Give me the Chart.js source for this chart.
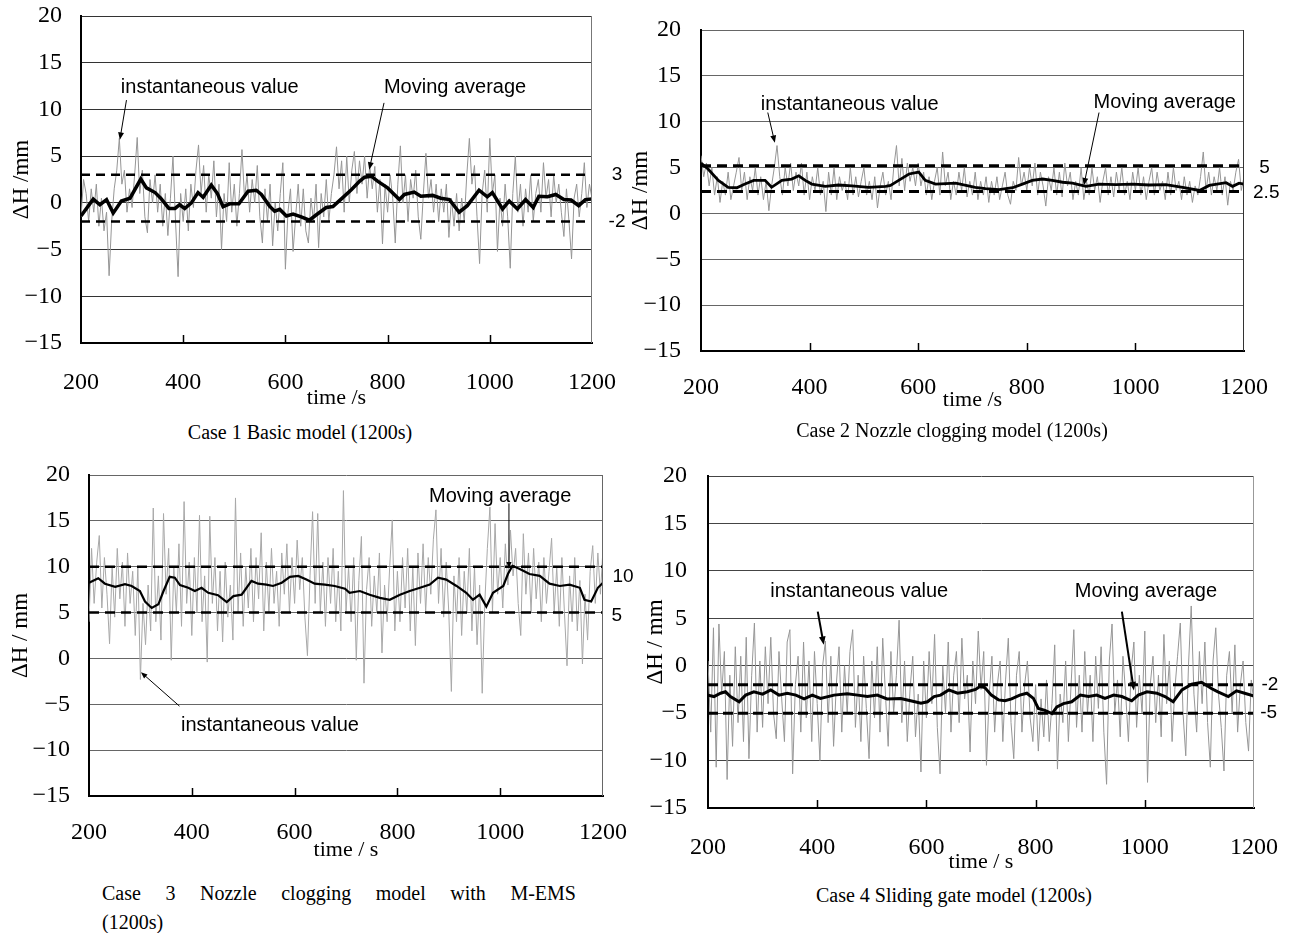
<!DOCTYPE html>
<html>
<head>
<meta charset="utf-8">
<script src="https://cdn.jsdelivr.net/npm/chart.js@4.4.1/dist/chart.umd.min.js"></script>
<style>
  body { margin: 0; background: #fff; width: 1297px; height: 933px; position: relative; overflow: hidden; }
  canvas { position: absolute; }
  .cap { position: absolute; font-family: 'Liberation Serif', 'Times New Roman', serif; font-size: 20px; line-height: 24px; color: #000; white-space: nowrap; }
</style>
</head>
<body>
<canvas id="c1" width="648" height="420" style="left:0;top:0"></canvas>
<canvas id="c2" width="677" height="420" style="left:620px;top:0"></canvas>
<canvas id="c3" width="640" height="420" style="left:0;top:460px"></canvas>
<canvas id="c4" width="657" height="420" style="left:640px;top:460px"></canvas>

<div class="cap" style="left:100px;width:400px;top:420px;text-align:center">Case 1 Basic model (1200s)</div>
<div class="cap" style="left:752px;width:400px;top:418px;text-align:center">Case 2 Nozzle clogging model (1200s)</div>
<div class="cap" style="left:102px;width:474px;top:881px;text-align:justify;text-align-last:justify">Case 3 Nozzle clogging model with M-EMS</div>
<div class="cap" style="left:102px;top:910px">(1200s)</div>
<div class="cap" style="left:754px;width:400px;top:883px;text-align:center">Case 4 Sliding gate model (1200s)</div>

<script>
// sample times of the instantaneous signal (one sample every 5 s)
const sampleStart = 200;
const sampleStep = 5;

// y axis range and tick step, x axis range and tick step
const yMin = -15, yMax = 20, yStep = 5;
const xMin = 200, xMax = 1200, xStep = 200;

// Case 1 Basic model
const case1Inst = [
  -1.5, 2.5, 1.0, -2.0, 1.5, -1.0, 2.0, -2.5, 0.5, -3.0, -1.0, -7.8, -2.0, 1.5, 3.5, 6.9, 2.0, 3.5, -1.0, 1.5,
  -0.5, 3.0, 7.0, 1.0, 3.5, -1.5, -3.2, 2.5, 0.0, 3.0, -1.0, 2.0, -2.5, 1.0, -3.5, 0.5, 5.0, -2.0, -7.9, 1.0,
  -2.0, 1.5, -3.0, 2.0, -0.5, 3.5, 6.2, 1.0, 4.0, -1.0, 3.0, 0.5, 4.5, -1.5, 2.0, -5.0, 1.0, -2.0, 4.3, -1.0,
  2.0, -2.5, 1.0, 5.7, 0.5, 3.0, -1.0, 2.5, 0.0, 4.0, -1.5, -4.3, 1.5, -2.0, 2.0, -4.6, 0.0, -3.0, 1.0, 4.3,
  -7.1, -1.0, 1.5, -5.2, -1.5, 2.0, -2.5, 1.5, -3.0, -4.3, 0.5, -2.0, 2.0, -4.8, 1.0, -1.5, 2.5, -2.0, 1.0, 3.0,
  6.0, 1.5, 4.5, -1.0, 5.0, 0.0, 3.5, 5.5, 1.0, 4.5, 2.0, 5.0, 0.5, 4.0, 1.5, 3.9, -1.0, 2.5, -4.4, 2.0,
  -1.0, 3.0, 0.5, -4.3, 2.0, 6.1, 0.0, 3.0, -2.0, 2.5, 0.5, 3.5, -1.5, -3.9, 1.0, 5.3, 0.5, 2.5, -1.0, 2.0,
  -2.0, 1.5, -1.0, 2.0, -3.7, 0.5, -2.5, 1.0, -3.0, 0.5, -2.0, 3.0, 6.9, 2.0, 4.0, -1.5, -6.5, 1.0, 3.5, -1.0,
  6.9, 1.0, 3.0, -5.2, 0.5, -2.5, 2.0, -1.5, -7.0, 1.0, 5.0, -1.0, 2.0, -2.5, 1.5, -1.0, 3.0, -2.0, 1.0, 2.5,
  -1.0, 4.3, 0.5, 2.5, -1.5, 3.0, 0.0, 2.0, -1.0, -3.6, 1.5, -2.0, -6.0, 0.5, 2.0, -1.5, 1.0, 4.3, -0.5, 2.0, 0.5
];
const case1MaTime = [200, 224, 237, 250, 263, 279, 296, 317, 328, 345, 356, 372, 384, 393, 403, 416, 429, 439, 455, 467,
  478, 491, 509, 527, 543, 553, 569, 579, 589, 602, 615, 631, 647, 660, 680, 693, 709, 729, 745, 755,
  768, 781, 800, 823, 833, 852, 865, 888, 904, 921, 940, 956, 979, 995, 1005, 1025, 1038, 1054, 1070, 1085,
  1096, 1113, 1129, 1145, 1159, 1174, 1187, 1200];
const case1MaValue = [-1.4, 0.4, -0.2, 0.35, -1.1, 0.2, 0.5, 2.55, 1.6, 1.1, 0.5, -0.6, -0.6, -0.2, -0.6, 0, 1.1, 0.6, 1.9, 1.0,
  -0.4, -0.1, -0.1, 1.25, 1.35, 0.9, -0.35, -0.9, -0.7, -1.4, -1.2, -1.5, -1.85, -1.3, -0.5, -0.4, 0.4, 1.4, 2.3, 2.75,
  2.85, 2.3, 1.6, 0.35, 0.9, 1.15, 0.7, 0.8, 0.5, 0.35, -1.0, -0.3, 1.35, 0.65, 1.1, -0.65, 0.2, -0.65, 0.35, -0.5,
  0.7, 0.65, 0.9, 0.35, 0.3, -0.3, 0.35, 0.4];
const case1Limits = [3, -2];
const case1LimitLabels = ['3', '-2'];

// Case 2 Nozzle clogging model
const case2Inst = [
  6.3, 4.0, 5.5, 3.0, 5.0, 2.0, 4.0, 1.2, 3.5, 2.0, 4.5, 1.5, 3.0, 4.5, 6.1, 2.5, 4.5, 1.5, 4.0, 2.5,
  5.0, 2.0, 4.0, 1.5, 3.5, 0.3, 3.0, 5.0, 7.4, 4.0, 2.0, 5.0, 3.0, 5.5, 2.5, 4.5, 3.0, 5.5, 2.0, 4.5,
  1.5, 4.0, 2.5, 5.0, 2.0, 3.5, 0.2, 4.5, 2.0, 5.0, 1.5, 4.0, 2.5, 3.5, 1.5, 5.0, 2.0, 4.0, 1.8, 3.5,
  5.0, 2.0, 3.5, 1.5, 4.0, 0.6, 3.0, 4.5, 2.0, 3.5, 1.5, 5.0, 7.4, 3.0, 6.0, 2.5, 5.5, 3.5, 5.0, 3.0,
  5.5, 3.0, 4.5, 2.0, 4.0, 1.5, 3.5, 5.0, 2.0, 6.7, 3.0, 4.5, 1.5, 3.5, 2.0, 4.5, 2.5, 5.0, 1.8, 3.5,
  2.0, 4.5, 1.5, 3.5, 2.0, 4.0, 1.2, 3.5, 2.0, 4.0, 1.5, 3.0, 4.5, 2.0, 1.0, 3.5, 2.5, 6.1, 3.0, 4.5,
  2.5, 5.0, 3.0, 5.5, 2.0, 4.5, 3.0, 0.8, 4.0, 2.5, 5.0, 2.0, 4.5, 1.8, 5.5, 3.0, 4.5, 1.5, 3.5, 2.0,
  5.0, 1.5, 3.5, 2.0, 5.0, 2.5, 4.0, 1.2, 3.5, 5.0, 2.0, 4.0, 1.8, 4.5, 2.5, 5.0, 2.0, 3.5, 1.5, 4.5,
  2.5, 5.0, 2.0, 4.0, 1.5, 3.5, 5.0, 2.0, 4.5, 2.5, 3.5, 1.5, 4.5, 2.0, 5.0, 2.5, 3.5, 1.5, 4.0, 2.0,
  3.5, 1.2, 3.0, 2.0, 4.0, 6.7, 2.5, 4.5, 2.0, 4.0, 2.5, 5.0, 2.0, 4.0, 0.9, 3.5, 2.5, 4.5, 5.9, 2.5, 4.0
];
const case2MaTime = [200, 213, 232, 250, 266, 281, 297, 318, 330, 349, 367, 380, 392, 404, 429, 453, 478, 509, 540, 549,
  564, 583, 601, 613, 632, 669, 705, 724, 749, 774, 792, 810, 829, 847, 866, 884, 909, 933, 964, 995,
  1025, 1056, 1087, 1118, 1136, 1167, 1179, 1191, 1200];
const case2MaValue = [5.5, 4.85, 3.6, 2.85, 2.8, 3.2, 3.6, 3.6, 2.85, 3.6, 3.75, 4.1, 3.6, 3.2, 2.95, 3.1, 3.0, 2.85, 2.95, 3.05,
  3.6, 4.3, 4.5, 3.6, 3.2, 3.3, 2.85, 2.7, 2.6, 2.8, 3.2, 3.6, 3.75, 3.6, 3.4, 3.3, 2.95, 3.2, 3.15, 3.2,
  3.1, 3.15, 2.85, 2.5, 3.05, 3.35, 2.95, 3.3, 3.2];
const case2Limits = [5.2, 2.4];
const case2LimitLabels = ['5', '2.5'];

// Case 3 Nozzle clogging model with M-EMS
const case3Inst = [
  4.0, 12.0, 6.0, 10.5, 13.4, 5.5, 11.0, 7.0, 1.6, 10.0, 4.5, 12.0, 6.5, 10.5, 3.5, 11.5, 6.0, 9.5, 2.5, 10.0,
  -2.3, 6.0, 1.5, 8.0, 3.0, 16.4, 4.0, 9.0, 2.0, 15.8, 7.0, 12.0, -0.2, 10.0, 5.0, 12.5, 3.5, 17.1, 6.0, 10.5,
  2.5, 11.0, 5.0, 15.6, 4.0, 9.0, -0.4, 15.5, 6.0, 11.0, 3.0, 9.5, 1.8, 10.5, 4.5, 8.0, 2.0, 17.5, 5.0, 11.5,
  3.5, 10.0, 5.5, 12.0, 4.0, 11.0, 6.5, 13.7, 3.0, 10.5, 5.0, 12.0, 6.0, 9.5, 3.5, 11.5, 7.0, 12.5, 5.0, 11.0,
  6.0, 12.9, 7.5, 11.0, 4.5, 0.3, 9.0, 16.0, 6.0, 15.8, 5.0, 10.5, 3.5, 11.0, 6.0, 12.0, 4.0, 9.5, 3.0, 18.3,
  5.0, 10.0, 4.0, 11.0, -0.2, 8.5, 13.3, -2.7, 7.5, 11.0, 3.5, 9.0, 5.0, 11.5, 0.6, 8.0, 4.0, 10.0, 15.1, 3.0,
  9.5, 4.0, 11.0, 5.5, 12.0, 3.0, 10.0, 1.4, 11.5, 6.0, 12.5, 5.0, 11.0, 7.0, 13.0, 16.2, 6.0, 12.0, 4.5, 10.5,
  5.0, -3.6, 9.0, 4.0, 11.0, 2.5, 9.5, 5.0, 12.0, 3.0, 10.0, 1.5, 8.0, -3.8, 6.0, 12.0, 16.5, 5.0, 14.7, 7.0,
  11.0, 5.5, 12.5, 8.0, 14.0, 9.0, 12.0, 6.0, 2.5, 13.6, 7.0, 11.5, 5.0, 12.0, 6.5, 10.5, 4.0, 11.0, 6.0, 9.5,
  13.1, 5.0, 10.0, 3.5, 11.0, 5.0, -0.8, 9.0, 4.0, 11.0, 3.0, 8.5, -0.6, 7.0, 2.0, 9.5, 12.3, 6.0, 11.5, 7.0, 12.0
];
const case3MaTime = [200, 218, 231, 251, 270, 283, 299, 309, 322, 335, 345, 357, 367, 377, 393, 406, 419, 432, 451, 468,
  481, 497, 516, 529, 545, 558, 575, 591, 607, 623, 639, 659, 678, 698, 707, 727, 746, 766, 785, 805,
  824, 844, 863, 879, 895, 915, 934, 947, 960, 973, 986, 1006, 1015, 1024, 1038, 1057, 1077, 1096, 1116, 1135,
  1155, 1164, 1177, 1190, 1200];
const case3MaValue = [8.25, 8.75, 8.15, 7.8, 8.1, 7.9, 7.35, 6.2, 5.5, 5.9, 7.35, 8.9, 8.8, 8.0, 7.7, 7.35, 7.7, 7.15, 6.9, 6.15,
  6.8, 6.95, 8.45, 8.15, 8.05, 7.9, 8.25, 8.9, 9.0, 8.6, 8.15, 8.05, 7.9, 7.6, 7.15, 7.35, 6.95, 6.6, 6.4, 6.95,
  7.35, 7.7, 8.05, 8.8, 8.6, 7.9, 7.15, 6.4, 6.95, 5.65, 7.15, 7.9, 9.2, 10.1, 9.75, 9.2, 9.0, 8.15, 7.9, 8.05,
  7.7, 6.4, 6.2, 7.7, 8.25];
const case3Limits = [10, 5];
const case3LimitLabels = ['10', '5'];

// Case 4 Sliding gate model
const case4Inst = [
  0.5, -7.0, 4.0, -10.7, 4.4, -3.0, 1.5, -12.0, -1.0, -8.5, 2.0, -6.0, 1.0, -8.0, 3.0, -9.8, -1.0, 4.5, -7.0, 0.5,
  -6.5, 2.0, -4.0, 3.0, -5.0, -7.7, 1.5, -3.5, -8.0, 2.5, 3.8, -11.4, -2.0, 1.0, -7.0, 2.5, -5.5, 0.5, -8.0, 1.5,
  -4.0, -10.0, 0.0, 2.6, -6.0, 1.0, -8.5, -2.0, 2.0, -7.0, 0.0, -5.0, 1.5, 3.8, -6.5, -1.0, -8.0, 1.0, -4.5, -9.8,
  0.5, -5.5, 2.0, -7.0, 2.9, -3.0, -8.5, 1.5, -5.0, -1.0, 4.8, -6.0, 0.5, -8.0, -2.5, 1.0, -7.5, -3.0, -11.2, 0.5,
  -5.5, 1.5, -4.0, 3.3, -6.5, -11.4, 0.0, -5.0, 2.5, -7.0, -1.0, 1.5, -6.0, 2.9, -3.5, -1.0, -9.1, 0.5, -4.0, 3.65,
  -2.5, 1.5, -10.5, -3.0, 1.0, -7.0, -2.0, 0.5, -8.0, -1.5, 2.9, -6.0, -9.8, -1.0, 1.5, -7.0, -2.0, 0.5, -5.5, -8.0,
  -2.0, -9.0, -3.5, -7.5, -1.5, -8.0, -4.0, 2.2, -10.9, -3.0, -6.0, 0.5, -8.0, -2.0, 3.8, -6.5, -1.0, -7.0, 1.5, -5.0,
  -1.0, -8.0, 1.0, -4.5, 2.0, -7.0, -12.5, 0.5, 4.4, -5.0, -1.5, -7.5, 1.0, -3.0, -8.0, -0.5, 2.5, -6.5, -1.0, -5.0,
  3.65, -12.3, -2.0, 1.0, -6.0, -1.0, -7.5, 3.3, -4.0, 0.5, -8.0, -2.5, 1.0, 4.5, -5.0, -9.5, 0.0, 6.3, -3.0, -7.0,
  1.5, -4.0, 2.5, -6.0, -10.7, 0.5, 4.0, -3.0, -6.5, -11.1, -1.0, 1.5, -5.0, 2.2, -7.0, -2.0, 0.5, -6.0, -9.0, -1.5, -4.0
];
const case4MaTime = [200, 211, 223, 232, 241, 257, 269, 284, 300, 315, 330, 345, 361, 376, 391, 406, 431, 455, 474, 492,
  510, 528, 553, 571, 590, 602, 614, 626, 641, 657, 675, 690, 698, 707, 719, 732, 744, 756, 771, 784,
  796, 805, 817, 830, 839, 851, 866, 882, 897, 912, 927, 943, 958, 976, 988, 1004, 1022, 1037, 1052, 1068,
  1086, 1104, 1122, 1134, 1153, 1168, 1183, 1200];
const case4MaValue = [-3.1, -3.25, -2.9, -2.75, -3.25, -3.8, -3.1, -2.75, -3.0, -2.55, -3.1, -2.9, -3.1, -3.5, -3.1, -3.45, -3.1, -2.95, -3.1, -3.25,
  -3.1, -3.5, -3.45, -3.7, -3.95, -3.8, -3.25, -3.1, -2.55, -2.9, -2.75, -2.5, -2.2, -2.3, -3.1, -3.6, -3.7, -3.5, -3.1, -2.9,
  -3.45, -4.5, -4.7, -5.05, -4.35, -4.0, -3.8, -3.1, -3.25, -3.1, -3.45, -3.1, -3.25, -3.7, -3.1, -2.75, -2.9, -3.25, -3.8, -2.55,
  -1.95, -1.75, -2.4, -2.75, -3.25, -2.65, -2.9, -3.2];
const case4Limits = [-2, -5];
const case4LimitLabels = ['-2', '-5'];

const serif = "'Liberation Serif', 'Times New Roman', serif";
const sans = "'Liberation Sans', Arial, sans-serif";

// draws inward x ticks, right frame, the annotation texts, arrows and limit labels
const annotate = {
  id: 'annotate',
  afterDraw(chart, args, o) {
    const { ctx, chartArea: a, scales: { x, y } } = chart;
    ctx.save();
    ctx.strokeStyle = '#000';
    ctx.fillStyle = '#000';
    ctx.lineWidth = 1.5;
    x.ticks.forEach(tk => {
      if (tk.value > x.min && tk.value < x.max) {
        const px = Math.round(x.getPixelForValue(tk.value)) + 0.5;
        ctx.beginPath(); ctx.moveTo(px, a.bottom); ctx.lineTo(px, a.bottom - 8); ctx.stroke();
      }
    });
    ctx.strokeStyle = o.frame;
    ctx.lineWidth = 1;
    ctx.beginPath(); ctx.moveTo(a.right - 0.5, a.top); ctx.lineTo(a.right - 0.5, a.bottom); ctx.stroke();

    ctx.strokeStyle = '#000';
    ctx.font = '20px ' + sans;
    ctx.textAlign = 'center';
    ctx.textBaseline = 'middle';
    o.notes.forEach(n => ctx.fillText(n.text, x.getPixelForValue(n.t), y.getPixelForValue(n.v)));
    o.arrows.forEach(ar => {
      const x0 = x.getPixelForValue(ar[0]), y0 = y.getPixelForValue(ar[1]);
      const x1 = x.getPixelForValue(ar[2]), y1 = y.getPixelForValue(ar[3]);
      const ang = Math.atan2(y1 - y0, x1 - x0);
      const h = o.head;
      ctx.lineWidth = o.arrowWidth;
      ctx.beginPath(); ctx.moveTo(x0, y0);
      ctx.lineTo(x1 - h * 0.8 * Math.cos(ang), y1 - h * 0.8 * Math.sin(ang)); ctx.stroke();
      ctx.beginPath(); ctx.moveTo(x1, y1);
      ctx.lineTo(x1 - h * Math.cos(ang - 0.38), y1 - h * Math.sin(ang - 0.38));
      ctx.lineTo(x1 - h * Math.cos(ang + 0.38), y1 - h * Math.sin(ang + 0.38));
      ctx.closePath(); ctx.fill();
    });
    ctx.font = '19px ' + sans;
    o.sideLabels.forEach(s => ctx.fillText(s.text, x.getPixelForValue(s.t), y.getPixelForValue(s.v)));
    ctx.restore();
  }
};

function series(values) {
  return values.map((v, i) => ({ x: sampleStart + i * sampleStep, y: v }));
}
function pairs(ts, vs) {
  return ts.map((t, i) => ({ x: t, y: vs[i] }));
}
function level(v) {
  return [{ x: xMin, y: v }, { x: xMax, y: v }];
}
const minus = v => String(v).replace('-', '\u2212');

function makePanel(p) {
  const datasets = [
    { data: pairs(p.maTime, p.maValue), borderColor: '#000', borderWidth: p.maWidth, order: 0 },
    { data: level(p.limits[0]), borderColor: '#000', borderWidth: p.dashWidth, borderDash: p.dash, order: 1 },
    { data: level(p.limits[1]), borderColor: '#000', borderWidth: p.dashWidth, borderDash: p.dash, order: 1 },
    { data: series(p.inst), borderColor: p.instColor, borderWidth: 1, order: 2 }
  ];
  return new Chart(document.getElementById(p.id), {
    type: 'line',
    data: { datasets },
    plugins: [annotate],
    options: {
      responsive: false,
      animation: false,
      events: [],
      layout: { padding: p.pad },
      elements: { point: { radius: 0 }, line: { tension: 0 } },
      plugins: {
        legend: { display: false },
        tooltip: { enabled: false },
        annotate: {
          frame: p.frame, notes: p.notes, arrows: p.arrows, head: p.head, arrowWidth: p.arrowWidth,
          sideLabels: p.limitLabels.map((text, i) => ({ text, t: p.labelPos[i][0], v: p.labelPos[i][1] }))
        }
      },
      scales: {
        x: {
          type: 'linear', min: xMin, max: xMax,
          // fixed box size so the plot area lands where the figure has it
          afterFit: s => { s.height = p.xh; s.paddingLeft = 0; s.paddingRight = 0; },
          grid: { display: false, drawTicks: false },
          border: { color: '#000', width: 2 },
          ticks: { stepSize: xStep, padding: p.xPad, color: '#000', font: { family: serif, size: 24 }, maxRotation: 0, callback: v => String(v) },
          title: { display: true, text: p.xTitle, color: '#000', font: { family: serif, size: 22 }, padding: 0 }
        },
        y: {
          min: yMin, max: yMax,
          afterFit: s => { s.width = p.yw; s.paddingTop = 0; s.paddingBottom = 0; },
          grid: { color: p.grid, lineWidth: 1, drawTicks: false },
          border: { color: '#000', width: 2 },
          ticks: { stepSize: yStep, padding: p.yPad, color: '#000', font: { family: serif, size: 24 }, callback: v => minus(v) },
          title: { display: true, text: p.yTitle, color: '#000', font: { family: serif, size: 23 }, padding: { top: p.yTitlePad, bottom: 0 } }
        }
      }
    }
  });
}

makePanel({
  id: 'c1', inst: case1Inst, maTime: case1MaTime, maValue: case1MaValue, limits: case1Limits, limitLabels: case1LimitLabels,
  labelPos: [[1249, 3], [1249, -2]],
  pad: { top: 16, right: 56, bottom: 9, left: 0 }, yw: 81, xh: 68, xPad: 25, yPad: 19, yTitlePad: 8,
  xTitle: 'time /s', yTitle: '\u0394H /mm',
  maWidth: 3.5, dashWidth: 2.5, dash: [9, 6], instColor: '#969696', grid: '#333', frame: '#777',
  notes: [{ text: 'instantaneous value', t: 452, v: 12.3 }, { text: 'Moving average', t: 932, v: 12.4 }],
  arrows: [[289, 11.0, 276, 6.75], [793, 10.7, 764, 3.55]], head: 8, arrowWidth: 1
});

makePanel({
  id: 'c2', inst: case2Inst, maTime: case2MaTime, maValue: case2MaValue, limits: case2Limits, limitLabels: case2LimitLabels,
  labelPos: [[1238, 5.0], [1241, 2.2]],
  pad: { top: 30, right: 53, bottom: 7, left: 0 }, yw: 81, xh: 62, xPad: 22, yPad: 20, yTitlePad: 7,
  xTitle: 'time /s', yTitle: '\u0394H /mm',
  maWidth: 2.8, dashWidth: 3, dash: [10, 6], instColor: '#969696', grid: '#666', frame: '#333',
  notes: [{ text: 'instantaneous value', t: 474, v: 11.9 }, { text: 'Moving average', t: 1054, v: 12.1 }],
  arrows: [[323, 11.0, 336, 7.7], [933, 11.0, 905, 3.05]], head: 8, arrowWidth: 1
});

makePanel({
  id: 'c3', inst: case3Inst, maTime: case3MaTime, maValue: case3MaValue, limits: case3Limits, limitLabels: case3LimitLabels,
  labelPos: [[1239, 8.9], [1227, 4.6]],
  pad: { top: 15, right: 37, bottom: 17, left: 0 }, yw: 89, xh: 67, xPad: 22, yPad: 19, yTitlePad: 7,
  xTitle: 'time / s', yTitle: '\u0394H / mm',
  maWidth: 2.2, dashWidth: 2.5, dash: [10, 6], instColor: '#a8a8a8', grid: '#666', frame: '#666',
  notes: [{ text: 'Moving average', t: 1000, v: 17.7 }, { text: 'instantaneous value', t: 552, v: -7.3 }],
  arrows: [[1017, 16.9, 1017, 9.8], [376, -5.2, 301, -1.5]], head: 7, arrowWidth: 1
});

makePanel({
  id: 'c4', inst: case4Inst, maTime: case4MaTime, maValue: case4MaValue, limits: case4Limits, limitLabels: case4LimitLabels,
  labelPos: [[1229, -2.0], [1227, -5.0]],
  pad: { top: 16, right: 43, bottom: 5, left: 0 }, yw: 68, xh: 67, xPad: 25, yPad: 21, yTitlePad: 2,
  xTitle: 'time / s', yTitle: '\u0394H / mm',
  maWidth: 3, dashWidth: 3, dash: [10, 5], instColor: '#969696', grid: '#444', frame: '#999',
  notes: [{ text: 'instantaneous value', t: 477, v: 7.8 }, { text: 'Moving average', t: 1002, v: 7.8 }],
  arrows: [[401, 5.7, 412, 2.2], [958, 5.7, 980, -2.6]], head: 9, arrowWidth: 2
});
</script>
</body>
</html>
